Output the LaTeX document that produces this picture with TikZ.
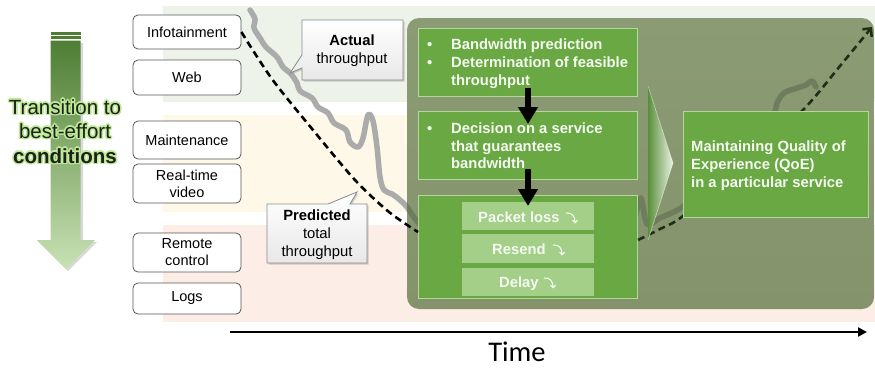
\documentclass[tikz,border=0pt]{standalone}
\usepackage{fontspec}
\setmainfont{Liberation Sans}
\newfontfamily\timefont{Carlito}
\usetikzlibrary{arrows.meta,shadows}
\definecolor{bandG}{HTML}{EEF3EA}
\definecolor{bandY}{HTML}{FDF8E7}
\definecolor{bandP}{HTML}{FCEDE6}
\definecolor{panelTop}{HTML}{8B9B73}
\definecolor{panelBot}{HTML}{84936C}
\definecolor{gboxC}{HTML}{6AA844}
\definecolor{gboxB}{HTML}{B2D89A}
\definecolor{subC}{HTML}{A3CF88}
\definecolor{grayL}{HTML}{ABABAB}
\definecolor{grayD}{HTML}{6F7C5E}
\definecolor{arrTop}{HTML}{4E7E34}
\definecolor{arrBot}{HTML}{C8E2B4}
\definecolor{glowC}{HTML}{BDEB94}
\definecolor{dashG}{HTML}{1E2F17}
\definecolor{svcB}{HTML}{555555}
\definecolor{callB}{HTML}{8A8A8A}
\definecolor{wtext}{HTML}{F4FAF0}
\tikzset{
 svc/.style={draw=svcB, line width=0.8pt, fill=white, rounded corners=5pt, minimum width=108pt, align=center, inner sep=1pt, font=\fontsize{14.5}{17}\selectfont},
 gbox/.style={draw=gboxB, line width=0.8pt, fill=gboxC, inner sep=0pt},
 subbox/.style={fill=subC, inner sep=0pt, minimum width=132pt},
 wtxt/.style={text=wtext, font=\fontsize{14.8}{18}\selectfont\bfseries, inner sep=0pt, anchor=base west},
 ctxt/.style={font=\fontsize{14.8}{18}\selectfont, inner sep=0pt, anchor=base},
 arrowtxt/.style={text=black!88, inner sep=0pt},
 glowtxt/.style={text=glowC, inner sep=0pt},
 flowarrow/.style={line width=6pt, -{Triangle[length=17pt,width=19pt]}},
 dashline/.style={line width=2.6pt, dash pattern=on 7pt off 4.5pt},
 actual/.style={line width=5.5pt, line cap=round, line join=round},
 callout/.style={draw=callB, line width=0.8pt, top color=white, bottom color=black!9, drop shadow={shadow xshift=1.5pt, shadow yshift=-1.5pt, opacity=0.35}},
 curvy/.style={draw=wtext, line width=1.1pt, -{Straight Barb[length=2.5pt,width=5pt]}},
}
\newcommand\glowline[5]{%
  \foreach \a in {0,30,...,330} {\node[glowtxt, font=#5] (#1-\a) at ([shift={(\a:1.5pt)}]#2,#3) {#4};}
  \node[arrowtxt, font=#5] (#1) at (#2,#3) {#4};}
\newcommand\curvyarrow[2]{%
  \draw[curvy] (#1,#2-9) .. controls (#1+6,#2-9.5) and (#1+9,#2-6) .. (#1+9,#2+1.5);}
\begin{document}
\begin{tikzpicture}[x=1pt,y=-1pt]
\useasboundingbox (0,0) rectangle (875,367);
% background bands
\fill[bandG] (163,6) rectangle (875,102);
\fill[bandY] (163,115) rectangle (875,212);
\fill[bandP] (163,225) rectangle (875,322);
% left transition arrow
\fill[black, opacity=0.15] (53,43) -- (83,43) -- (83,242) -- (97,242) -- (68,271) -- (39,242) -- (53,242) -- cycle;
\shade[top color=arrTop, bottom color=arrBot] (50.5,40.5) -- (80.5,40.5) -- (80.5,240) -- (95,240) -- (66,269) -- (37,240) -- (50.5,240) -- cycle;
\fill[arrTop] (50.5,32) rectangle (80.5,34.5);
\fill[arrTop] (50.5,36) rectangle (80.5,39);
\glowline{t1}{65}{107}{Transition to}{\fontsize{20.5}{24}\selectfont}
\glowline{t2}{65}{131}{best-effort}{\fontsize{20.5}{24}\selectfont}
\glowline{t3}{65}{156}{conditions}{\fontsize{20.5}{24}\selectfont\bfseries}
% service boxes
\node[svc, minimum height=34pt] (info) at (187,32) {Infotainment};
\node[svc, minimum height=35pt] (web) at (187,77.5) {Web};
\node[svc, minimum height=38pt] (maint) at (187,140) {Maintenance};
\node[svc, minimum height=39pt] (rtv) at (187,183.5) {Real-time\\video};
\node[svc, minimum height=39pt] (remote) at (187,252.5) {Remote\\control};
\node[svc, minimum height=31pt] (logs) at (187,298.5) {Logs};
% actual throughput (outside panel)
\draw[actual, grayL] plot[smooth, tension=0.55] coordinates {(250,10) (255,19) (254,28) (260,38) (266,47) (277,57) (283,67) (291,74) (297,83) (300,91) (312,98) (318,107) (328,113) (334,123) (346,130) (350,142) (358,147) (363,138) (368,115) (373,121) (377,147) (380,177) (384,190) (392,194) (400,200) (407,207) (413,216) (421,226)};
% panel
\shade[top color=panelTop, bottom color=panelBot, rounded corners=12pt] (407,18) rectangle (874,309);
\begin{scope}
\clip[rounded corners=12pt] (407,18) rectangle (874,309);
\draw[actual, grayD] plot[smooth, tension=0.55] coordinates {(250,10) (255,19) (254,28) (260,38) (266,47) (277,57) (283,67) (291,74) (297,83) (300,91) (312,98) (318,107) (328,113) (334,123) (346,130) (350,142) (358,147) (363,138) (368,115) (373,121) (377,147) (380,177) (384,190) (392,194) (400,200) (407,207) (413,216) (421,226)};
\end{scope}
\draw[actual, grayD] plot[smooth, tension=0.55] coordinates {(636,214) (641,198) (647,224) (660,218) (685,205) (720,170) (770,118) (777,103) (784,93) (797,88) (806,85) (812,81) (816,87)};
% callouts
\path[callout] (302,20) -- (403,20) -- (403,80) -- (302,80) -- (302,68) -- (290,73) -- (302,55) -- cycle;
\node[ctxt, font=\fontsize{14.8}{18}\selectfont\bfseries] (act1) at (352,45) {Actual};
\node[ctxt] (act2) at (352,63) {throughput};
\path[callout] (267,204) -- (328,204) -- (357,192) -- (350,204) -- (367,204) -- (367,263) -- (267,263) -- cycle;
\node[ctxt, font=\fontsize{14.8}{18}\selectfont\bfseries] (pre1) at (317,220) {Predicted};
\node[ctxt] (pre2) at (317,238) {total};
\node[ctxt] (pre3) at (317,256) {throughput};
% green boxes
\node[gbox, minimum width=219pt, minimum height=68pt] (b1) at (527.5,62) {};
\node[gbox, minimum width=219pt, minimum height=68pt] (b2) at (527.5,145) {};
\node[gbox, minimum width=219pt, minimum height=103pt] (b3) at (527.5,246.5) {};
\node[wtxt] (bul1) at (427,49) {•};
\node[wtxt] (l1) at (451,49) {Bandwidth prediction};
\node[wtxt] (bul2) at (427,67) {•};
\node[wtxt] (l2) at (451,67) {Determination of feasible};
\node[wtxt] (l3) at (451,85) {throughput};
\node[wtxt] (bul3) at (427,133) {•};
\node[wtxt] (l4) at (451,133) {Decision on a service};
\node[wtxt] (l5) at (451,151) {that guarantees};
\node[wtxt] (l6) at (451,168) {bandwidth};
% sub boxes
\node[subbox, minimum height=28pt] (s1) at (528,216) {};
\node[subbox, minimum height=29pt] (s2) at (528,248.5) {};
\node[subbox, minimum height=28pt] (s3) at (528,282) {};
\node[wtxt] (s1t) at (478,222) {Packet loss};
\curvyarrow{566}{222}
\node[wtxt] (s2t) at (492,254) {Resend};
\curvyarrow{553}{254}
\node[wtxt] (s3t) at (499,287) {Delay};
\curvyarrow{544}{287}
% flow arrows
\coordinate (a1s) at (528,88);
\coordinate (a1e) at (528,124);
\coordinate (a2s) at (528,169);
\coordinate (a2e) at (528,206);
\draw[flowarrow] (a1s) -- (a1e);
\draw[flowarrow] (a2s) -- (a2e);
% dashed predicted curve
\coordinate (dEnd) at (418,232);
\draw[dashline, black] plot[smooth] coordinates {(info.east) (272,79) (313,130) (355,180) (389,212) (dEnd)};
% dashed rising curve
\coordinate (rStart) at (638,240);
\coordinate (rEnd) at (872,27);
\draw[dashline, dashG, -{Straight Barb[length=6pt,width=12pt]}] plot[smooth] coordinates {(rStart) (660,229) (683,216) (745,163) (803,110) (840,66) (rEnd)};
% chevron
\shade[left color=gboxC!85!black, right color=white!85!gboxC] (648,86) -- (673,163) -- (648,240) -- cycle;
\draw[white, opacity=0.5, line width=0.6pt] (648,86) -- (673,163) -- (648,240);
% QoE box
\node[gbox, minimum width=185pt, minimum height=106pt] (b4) at (775.5,164) {};
\node[wtxt] (q1) at (691,151) {Maintaining Quality of};
\node[wtxt] (q2) at (691,169) {Experience (QoE)};
\node[wtxt] (q3) at (691,187) {in a particular service};
% time axis
\coordinate (t0) at (230,332);
\coordinate (tE) at (867,332);
\draw[line width=2.5pt, -{Triangle[length=9pt,width=9pt]}] (t0) -- (tE);
\node[inner sep=0pt, anchor=base, font=\timefont\fontsize{28.5}{30}\selectfont] (time) at (517,361) {Time};
\end{tikzpicture}
\end{document}
